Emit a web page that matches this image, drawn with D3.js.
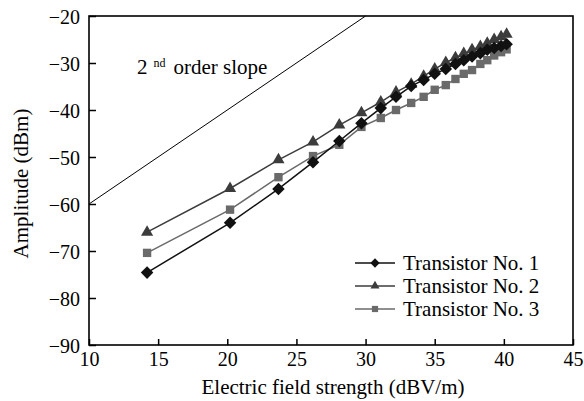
<!DOCTYPE html>
<html>
<head>
<meta charset="utf-8">
<script src="https://cdn.jsdelivr.net/npm/d3@7"></script>
<style>
  body { margin: 0; background: #fff; }
  text { font-family: "Liberation Serif", "Times New Roman", serif; fill: #000; }
</style>
</head>
<body>
<div id="chart"></div>
<script>
var w = 584,
    h = 401,
    m = [16, 11, 56, 89]; // top right bottom left

// field strength in dBV/m, same for the three transistors
var field = [14.2, 20.2, 23.7, 26.2, 28.1, 29.7, 31.1, 32.2, 33.3, 34.2,
             35.0, 35.8, 36.5, 37.1, 37.7, 38.3, 38.8, 39.3, 39.8, 40.2];

var amp1 = [-74.6, -64.0, -56.8, -51.1, -46.6, -42.8, -39.6, -37.2, -34.9, -33.6,
            -32.3, -31.3, -30.2, -29.4, -28.6, -27.9, -27.2, -26.8, -26.4, -26.0];
var amp2 = [-66.0, -56.7, -50.6, -46.8, -43.2, -40.6, -38.3, -36.2, -34.5, -32.8,
            -31.3, -29.9, -28.9, -28.0, -27.2, -26.5, -25.8, -25.0, -24.4, -23.9];
var amp3 = [-70.4, -61.2, -54.3, -49.8, -47.4, -43.6, -41.7, -40.0, -38.5, -37.2,
            -35.7, -34.7, -33.4, -32.3, -31.5, -30.2, -29.4, -28.4, -27.7, -27.1];

var names = ["Transistor No. 1", "Transistor No. 2", "Transistor No. 3"];
var colors = ["#111", "#3c3c3c", "#6a6a6a"];
var symbols = [d3.symbolDiamond2, d3.symbolTriangle, d3.symbolSquare];
var symSize = [100, 64, 70];

// 2nd order reference line
var slopeX = [10, 30];
var slopeY = [-60, -20];

var xTicks = [10, 15, 20, 25, 30, 35, 40, 45];
var yTicks = [-90, -80, -70, -60, -50, -40, -30, -20];

var iw = w - m[1] - m[3],
    ih = h - m[0] - m[2];

var x = d3.scaleLinear().domain([10, 45]).range([0, iw]);
var y = d3.scaleLinear().domain([-90, -20]).range([ih, 0]);

var svg = d3.select("#chart").append("svg")
    .attr("width", w)
    .attr("height", h);

var g = svg.append("g")
    .attr("transform", "translate(" + m[3] + "," + m[0] + ")");

// axes, ticks inward
var xAxis = g.append("g")
    .attr("transform", "translate(0," + ih + ")")
    .call(d3.axisBottom(x).tickValues(xTicks).tickSizeInner(-6).tickSizeOuter(0).tickPadding(7));
var yAxis = g.append("g")
    .call(d3.axisLeft(y).tickValues(yTicks).tickSizeInner(-7).tickSizeOuter(0).tickPadding(9));

[xAxis, yAxis].forEach(function(a) {
  a.select(".domain").remove();
  a.selectAll(".tick line").attr("stroke", "#000").attr("stroke-width", 1.5);
  a.selectAll(".tick text")
      .style("font-family", "Liberation Serif, serif")
      .style("font-size", "20px")
      .attr("fill", "#000");
});
yAxis.selectAll(".tick text").attr("dy", "0.35em");

g.append("rect")
    .attr("width", iw)
    .attr("height", ih)
    .attr("fill", "none")
    .attr("stroke", "#000")
    .attr("stroke-width", 1.6);

// slope line
g.append("line")
    .attr("x1", x(slopeX[0])).attr("y1", y(slopeY[0]))
    .attr("x2", x(slopeX[1])).attr("y2", y(slopeY[1]))
    .attr("stroke", "#000")
    .attr("stroke-width", 1);

var lbl = g.append("text")
    .attr("x", 48)
    .attr("y", 58)
    .style("font-size", "21px");
lbl.append("tspan").text("2");
lbl.append("tspan").attr("dx", 6).attr("dy", -7).style("font-size", "12px").text("nd");
lbl.append("tspan").attr("dx", 8).attr("dy", 7).text("order slope");

// series
var series = [amp1, amp2, amp3].map(function(a, i) {
  return { name: names[i], values: a.map(function(v, j) { return [field[j], v]; }) };
});

var line = d3.line()
    .x(function(d) { return x(d[0]); })
    .y(function(d) { return y(d[1]); });

// draw in reverse so No. 1 ends up on top
series.slice().reverse().forEach(function(s) {
  var i = names.indexOf(s.name);
  var sg = g.append("g");
  sg.append("path")
      .attr("d", line(s.values))
      .attr("fill", "none")
      .attr("stroke", colors[i])
      .attr("stroke-width", 1.5);
  sg.selectAll("path.pt")
      .data(s.values)
    .enter().append("path")
      .attr("class", "pt")
      .attr("transform", function(d) {
        return "translate(" + x(d[0]) + "," + y(d[1]) + ")";
      })
      .attr("d", d3.symbol().type(symbols[i]).size(symSize[i]))
      .attr("fill", colors[i]);
});

// legend
var leg = g.append("g")
    .attr("transform", "translate(266,247)");
names.forEach(function(n, i) {
  var row = leg.append("g").attr("transform", "translate(0," + (i * 23) + ")");
  row.append("line")
      .attr("x1", 0).attr("x2", 40)
      .attr("stroke", colors[i]).attr("stroke-width", 1.5);
  row.append("path")
      .attr("transform", "translate(20,0)")
      .attr("d", d3.symbol().type(symbols[i]).size(symSize[i] * 0.55))
      .attr("fill", colors[i]);
  row.append("text")
      .attr("x", 48)
      .attr("dy", "0.35em")
      .style("font-size", "21px")
      .text(n);
});

// axis titles
svg.append("text")
    .attr("x", m[3] + iw / 2 + 2)
    .attr("y", 394)
    .attr("text-anchor", "middle")
    .style("font-size", "21px")
    .text("Electric field strength (dBV/m)");

svg.append("text")
    .attr("transform", "translate(28," + (m[0] + ih / 2 + 3) + ") rotate(-90)")
    .attr("text-anchor", "middle")
    .style("font-size", "21px")
    .text("Amplitude (dBm)");
</script>
</body>
</html>
